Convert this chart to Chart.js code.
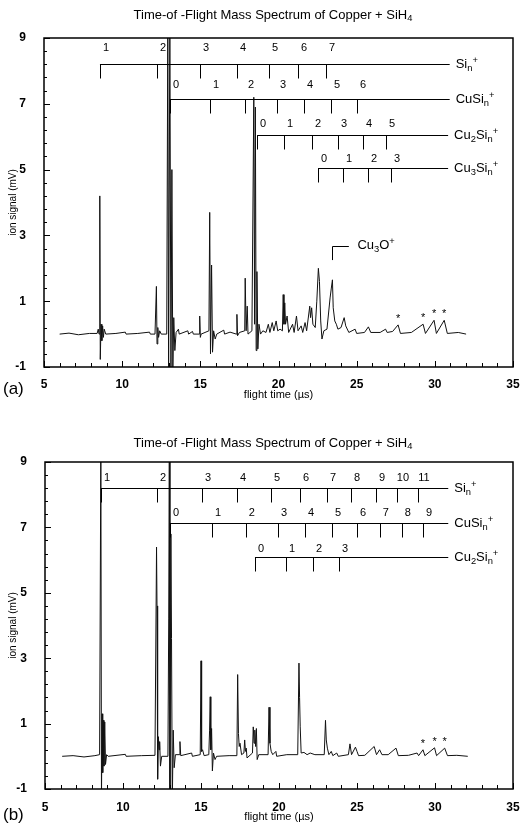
<!DOCTYPE html>
<html>
<head>
<meta charset="utf-8">
<script src="https://cdn.jsdelivr.net/npm/chart.js@4.4.0/dist/chart.umd.min.js"></script>
<style>
  html, body { margin: 0; padding: 0; background: #fff; }
  .panel { position: relative; width: 527px; height: 414px; }
  canvas { display: block; }
</style>
</head>
<body>
<div class="panel"><canvas id="specA" width="527" height="414"></canvas></div>
<div class="panel"><canvas id="specB" width="527" height="414"></canvas></div>
<script>
// ---- spectrum (a): flight time (us) and ion signal (mV) ----
var timeA = [6.0, 6.6, 7.2, 7.9, 8.4, 8.47, 8.52, 8.57, 8.60, 8.65,
  8.70, 8.75, 8.80, 8.85, 8.95, 9.6, 10.2, 10.25, 11.0, 11.75,
  11.8, 12.1, 12.19, 12.23, 12.28, 12.33, 12.4, 12.5, 12.85, 12.92,
  12.97, 13.05, 13.12, 13.18, 13.24, 13.3, 13.37, 13.45, 13.6, 13.65,
  14.2, 14.25, 14.5, 14.55, 14.93, 14.96, 15.0, 15.05, 15.55, 15.6,
  15.65, 15.72, 15.78, 15.85, 15.95, 16.05, 16.5, 16.55, 16.9, 17.3,
  17.34, 17.38, 17.5, 17.84, 17.87, 17.93, 18.0, 18.05, 18.3, 18.42,
  18.47, 18.52, 18.57, 18.62, 18.68, 18.75, 18.85, 19.0, 19.2, 19.35,
  19.45, 19.6, 19.7, 19.85, 19.95, 20.1, 20.25, 20.3, 20.35, 20.4,
  20.45, 20.55, 20.65, 20.9, 21.0, 21.15, 21.25, 21.45, 21.55, 21.7,
  21.8, 22.0, 22.05, 22.12, 22.2, 22.35, 22.45, 22.55, 22.62, 22.7,
  22.78, 22.9, 23.1, 23.3, 23.38, 23.45, 23.5, 23.6, 23.7, 23.8,
  24.0, 24.2, 24.3, 24.5, 24.9, 25.0, 25.5, 25.75, 25.9, 26.5,
  26.85, 26.95, 27.3, 27.65, 27.8, 28.5, 29.25, 29.4, 29.95, 30.1,
  30.6, 30.8, 31.5, 32.0];
var signalA = [0, 0.03, -0.02, 0.02, 0.02, 0.15, 0, 4.2, -0.77, 0.3,
  -0.2, 0.25, -0.1, 0.15, 0, 0.02, 0.06, 0, 0.02, 0.06,
  0, 0, 1.45, -0.3, 0.2, -0.1, 0.1, 0, 0, 9.5,
  -1.5, 9.5, -1.5, 5.0, -1.2, 0.5, -0.5, 0.05, 0.15, 0,
  0.1, 0, 0.08, 0, 0, 0.55, -0.1, 0, 0.1, 3.7,
  -0.6, 2.1, -0.55, 0.1, -0.15, 0, 0.12, 0, 0.06, 0,
  0.6, -0.05, 0.05, 0.1, 1.7, 0.1, 0.85, 0, 0.1, 7.2,
  0.3, 6.9, -0.5, 1.9, -0.45, 0.3, 0, 0.1, 0.05, 0.3,
  0.05, 0.35, 0.1, 0.4, 0.1, 0.15, 0.1, 1.2, 0.3, 0.95,
  0.3, 0.55, 0.05, 0.3, 0.05, 0.55, 0.1, 0.25, 0.05, 0.35,
  0.1, 0.85, 0.5, 0.8, 0.3, 0.2, 1.0, 2.0, 1.6, 0.4,
  -0.15, 0.1, 0.15, 1.1, 1.4, 1.65, 0.8, 0.4, 0.3, 0.15,
  0.2, 0.5, 0.25, 0.05, 0.15, 0.02, 0.05, 0.22, 0.05, 0.05,
  0.15, 0.05, 0.08, 0.28, 0.02, 0.05, 0.3, 0.02, 0.42, 0.02,
  0.42, 0.02, 0.05, 0];

// ---- spectrum (b) ----
var timeB = [6.1, 6.8, 7.5, 8.2, 8.5, 8.58, 8.62, 8.66, 8.70, 8.74,
  8.78, 8.83, 8.88, 8.95, 9.05, 10.15, 10.2, 11.2, 12.05, 12.15,
  12.18, 12.22, 12.27, 12.31, 12.35, 12.4, 12.48, 12.88, 12.93, 12.97,
  13.01, 13.07, 13.11, 13.16, 13.22, 13.28, 13.36, 13.6, 13.65, 13.7,
  14.4, 14.45, 14.95, 15.0, 15.04, 15.1, 15.2, 15.5, 15.55, 15.59,
  15.63, 15.68, 15.73, 15.8, 15.9, 16.0, 16.8, 17.3, 17.35, 17.4,
  17.45, 17.5, 17.6, 17.75, 17.8, 17.85, 17.9, 17.95, 18.3, 18.35,
  18.4, 18.45, 18.5, 18.55, 18.6, 18.7, 19.3, 19.36, 19.42, 19.5,
  19.6, 19.8, 19.85, 20.5, 21.2, 21.28, 21.32, 21.36, 21.42, 21.6,
  21.8, 22.0, 22.3, 22.9, 22.98, 23.03, 23.1, 23.2, 23.35, 23.45,
  23.7, 23.8, 24.45, 24.55, 24.65, 24.9, 25.0, 25.1, 25.5, 26.1,
  26.25, 26.45, 26.6, 27.0, 27.5, 27.65, 28.3, 28.85, 28.95, 29.23,
  29.35, 29.97, 30.1, 30.62, 30.8, 31.4, 32.1];
var signalB = [0, 0.02, -0.02, 0.02, 0.05, 9.5, -1.3, 1.3, -0.5, 1.1,
  -0.3, 1.05, -0.25, 0.05, 0, 0.06, 0, 0.02, 0.03, 6.4,
  4.6, -0.7, 0.6, 0.2, 0.45, -0.3, 0, 0, 4.2, 9.5,
  -1.4, 6.8, 3.6, -1.4, 0.8, -0.35, 0.05, 0.05, 0.45, 0.02,
  0.1, 0, 0.05, 2.92, 0.15, 0.2, 0.02, 0.05, 0.8, 1.82,
  0.2, 0.85, -0.45, 0.1, -0.1, 0, 0.02, 0.02, 2.5, 0.7,
  0.3, 0.4, 0.05, 0.1, 0.5, 0.15, 0.25, -0.05, 0.1, 0.9,
  0.4, 0.8, 0.3, 0.85, -0.1, 0.05, 0.05, 1.5, 0.4, 0.15,
  0.05, 0.15, 0, 0.05, 0.05, 2.85, 1.8, 0.9, 0.1, 0.12,
  0.05, 0.1, 0.05, 0.05, 1.1, 0.5, 0.25, 0.05, 0.15, 0.02,
  0.1, 0, 0.05, 0.38, 0.05, 0.28, 0.15, 0.02, 0.03, 0.3,
  0.05, 0.2, 0.05, 0.05, 0.25, 0.02, 0.03, 0.1, 0.02, 0.2,
  0.02, 0.26, 0.02, 0.25, 0.02, 0.03, 0];

// ---- peak assignments (flight times of each cluster size n) ----
var siA = [8.58, 12.23, 14.98, 17.35, 19.39, 21.25, 23.04];          // n = 1..7
var cuSiA = [13.06, 15.62, 17.86, 19.91, 21.63, 23.36, 25.03];       // n = 0..6
var cu2SiA = [18.63, 20.36, 22.15, 23.81, 25.41, 26.88];             // n = 0..5
var cu3SiA = [22.53, 24.13, 25.73, 27.20];                           // n = 0..3
var siB = [8.59, 12.18, 15.06, 17.31, 19.49, 21.35, 23.08, 24.62, 26.22, 27.56, 28.91]; // n = 1..11
var cuSiB = [13.01, 15.71, 17.88, 19.94, 21.67, 23.40, 25.00, 26.47, 27.88, 29.23];     // n = 0..9
var cu2SiB = [18.46, 20.45, 22.18, 23.85];                           // n = 0..3

// peaks marked with an asterisk: [time, peak signal]
var starsA = [[27.65, 0.28], [29.25, 0.3], [29.95, 0.42], [30.6, 0.42]];
var starsB = [[29.23, 0.2], [29.97, 0.26], [30.62, 0.25]];

var yTicks = [-1, 1, 3, 5, 7, 9];
var xTicks = [5, 10, 15, 20, 25, 30, 35];

var FONT = '"Liberation Sans", Arial, Helvetica, sans-serif';
var TITLE = [["Time-of -Flight Mass Spectrum of Copper + SiH", 0], ["4", 1]];
var SI = [["Si", 0], ["n", 1], ["+", -1]];
var CUSI = [["CuSi", 0], ["n", 1], ["+", -1]];
var CU2SI = [["Cu", 0], ["2", 1], ["Si", 0], ["n", 1], ["+", -1]];
var CU3SI = [["Cu", 0], ["3", 1], ["Si", 0], ["n", 1], ["+", -1]];
var CU3O = [["Cu", 0], ["3", 1], ["O", 0], ["+", -1]];

function drawRich(ctx, parts, x, y, size, align) {
  var w = 0;
  parts.forEach(function (p) {
    ctx.font = (p[1] ? size * 0.72 : size) + "px " + FONT;
    w += ctx.measureText(p[0]).width;
  });
  var cx = align === "center" ? x - w / 2 : x;
  ctx.textAlign = "left";
  ctx.textBaseline = "middle";
  parts.forEach(function (p) {
    var s = p[1] ? size * 0.72 : size;
    ctx.font = s + "px " + FONT;
    var dy = p[1] === 1 ? size * 0.3 : (p[1] === -1 ? -size * 0.35 : 0);
    ctx.fillText(p[0], cx, y + dy);
    cx += ctx.measureText(p[0]).width;
  });
}

function overlay(cfg) {
  return {
    id: "overlay",
    afterDraw: function (chart) {
      var ctx = chart.ctx, a = chart.chartArea;
      var xs = chart.scales.x, ys = chart.scales.y;
      ctx.save();
      ctx.strokeStyle = "#000";
      ctx.fillStyle = "#000";

      // frame and inward ticks
      ctx.lineWidth = 1.5;
      ctx.strokeRect(a.left, a.top, a.right - a.left, a.bottom - a.top);
      ctx.lineWidth = 1;
      ctx.beginPath();
      for (var i = 0; i <= 25; i++) {
        var py = Math.round(ys.getPixelForValue(-1 + i * 0.4)) + 0.5;
        var len = i % 5 === 0 ? 6 : 3;
        ctx.moveTo(a.left, py); ctx.lineTo(a.left + len, py);
      }
      for (var t = 5; t <= 35; t++) {
        var px = Math.round(xs.getPixelForValue(t)) + 0.5;
        var l2 = t % 5 === 0 ? 6 : 4;
        ctx.moveTo(px, a.bottom); ctx.lineTo(px, a.bottom - l2);
      }
      ctx.stroke();

      // assignment ladders
      cfg.ladders.forEach(function (ld) {
        var y0 = Math.round(ys.getPixelForValue(ld.level)) + 0.5;
        var xEnd = xs.getPixelForValue(ld.end);
        ctx.beginPath();
        ctx.moveTo(xs.getPixelForValue(ld.times[0]), y0);
        ctx.lineTo(xEnd, y0);
        ld.times.forEach(function (tt) {
          var p = Math.round(xs.getPixelForValue(tt)) + 0.5;
          ctx.moveTo(p, y0); ctx.lineTo(p, y0 + 14);
        });
        ctx.stroke();
        ctx.font = "11px " + FONT;
        ctx.textAlign = "center";
        ctx.textBaseline = "middle";
        ld.times.forEach(function (tt, k) {
          ctx.fillText(String(ld.first + k), xs.getPixelForValue(tt) + 6, y0 - ld.gap);
        });
        drawRich(ctx, ld.name, xEnd + 6, y0, 13, "left");
      });

      // Cu3O+ marker
      if (cfg.cu3o) {
        var c = cfg.cu3o;
        var bx = Math.round(xs.getPixelForValue(c.at)) + 0.5;
        var by = Math.round(ys.getPixelForValue(c.top)) + 0.5;
        ctx.beginPath();
        ctx.moveTo(bx, ys.getPixelForValue(c.bottom));
        ctx.lineTo(bx, by);
        ctx.lineTo(xs.getPixelForValue(c.to), by);
        ctx.stroke();
        drawRich(ctx, CU3O, xs.getPixelForValue(c.label), by - 1, 13, "left");
      }

      // asterisks
      ctx.font = "11px " + FONT;
      ctx.textAlign = "center";
      ctx.textBaseline = "middle";
      cfg.stars.forEach(function (s) {
        ctx.fillText("*", xs.getPixelForValue(s[0]), ys.getPixelForValue(s[1]) - 6);
      });

      // titles
      drawRich(ctx, TITLE, 273, cfg.titleY, 13, "center");
      ctx.font = "11px " + FONT;
      ctx.textAlign = "center";
      ctx.textBaseline = "middle";
      ctx.fillText("flight time (\u00b5s)", (a.left + a.right) / 2, cfg.xTitleY);
      ctx.save();
      ctx.font = "10px " + FONT;
      ctx.translate(13, (a.top + a.bottom) / 2);
      ctx.rotate(-Math.PI / 2);
      ctx.fillText("ion signal (mV)", 0, 0);
      ctx.restore();
      ctx.font = "17px " + FONT;
      ctx.textAlign = "left";
      ctx.fillText(cfg.panel, 3, cfg.panelY);
      ctx.restore();
    }
  };
}

function makeChart(id, times, signal, cfg) {
  var pts = times.map(function (t, i) { return { x: t, y: signal[i] }; });
  return new Chart(document.getElementById(id), {
    type: "line",
    data: {
      datasets: [{
        data: pts,
        borderColor: "#111",
        borderWidth: 1,
        pointRadius: 0,
        tension: 0,
        fill: false
      }]
    },
    options: {
      responsive: false,
      animation: false,
      layout: { padding: { top: cfg.top, right: 14, left: 0, bottom: 0 } },
      plugins: { legend: { display: false }, tooltip: { enabled: false }, title: { display: false } },
      scales: {
        x: {
          type: "linear", min: 5, max: 35,
          grid: { display: false }, border: { display: false },
          afterBuildTicks: function (s) { s.ticks = xTicks.map(function (v) { return { value: v }; }); },
          ticks: { padding: cfg.xPad, maxRotation: 0, autoSkip: false, color: "#000",
                   font: { size: 12, weight: "bold", family: FONT } },
          afterFit: function (s) { s.height = cfg.xh; }
        },
        y: {
          min: -1, max: 9,
          grid: { display: false }, border: { display: false },
          afterBuildTicks: function (s) { s.ticks = yTicks.map(function (v) { return { value: v }; }); },
          ticks: { padding: 10, color: "#000", font: { size: 12, weight: "bold", family: FONT } },
          afterFit: function (s) { s.width = cfg.left; }
        }
      }
    },
    plugins: [overlay(cfg)]
  });
}

makeChart("specA", timeA, signalA, {
  top: 38, left: 44, xh: 47, xPad: 2, titleY: 15, xTitleY: 395, panel: "(a)", panelY: 389,
  stars: starsA,
  ladders: [
    { times: siA, first: 1, level: 8.21, end: 30.95, gap: 17, name: SI },
    { times: cuSiA, first: 0, level: 7.15, end: 30.95, gap: 15, name: CUSI },
    { times: cu2SiA, first: 0, level: 6.05, end: 30.85, gap: 12, name: CU2SI },
    { times: cu3SiA, first: 0, level: 5.05, end: 30.85, gap: 10, name: CU3SI }
  ],
  cu3o: { at: 23.45, bottom: 2.25, top: 2.68, to: 24.5, label: 25.05 }
});

makeChart("specB", timeB, signalB, {
  top: 48, left: 45, xh: 39, xPad: 3, titleY: 29, xTitleY: 403, panel: "(b)", panelY: 401,
  stars: starsB,
  ladders: [
    { times: siB, first: 1, level: 8.2, end: 30.85, gap: 11, name: SI },
    { times: cuSiB, first: 0, level: 7.13, end: 30.85, gap: 11, name: CUSI },
    { times: cu2SiB, first: 0, level: 6.09, end: 30.85, gap: 9, name: CU2SI }
  ],
  cu3o: null
});
</script>
</body>
</html>
